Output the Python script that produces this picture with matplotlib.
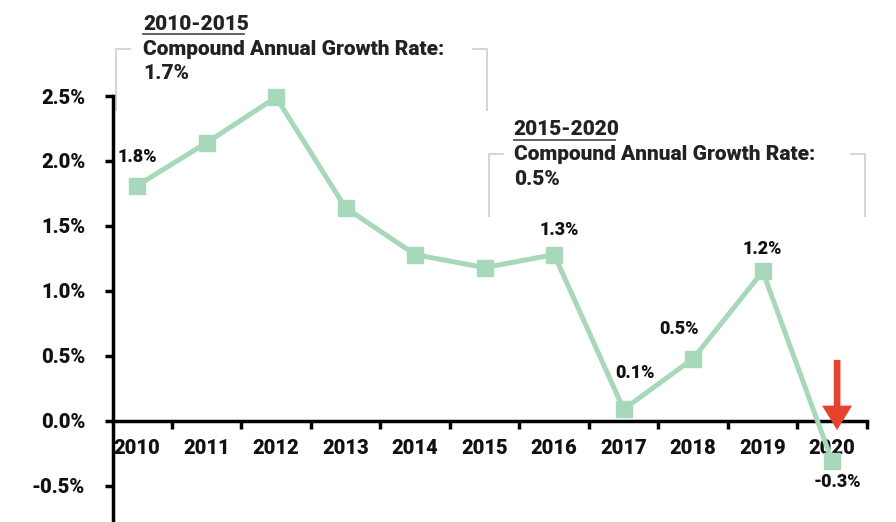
import numpy as np
import matplotlib.pyplot as plt

years = ['2010', '2011', '2012', '2013', '2014', '2015', '2016', '2017', '2018', '2019', '2020']
growth = [1.81, 2.14, 2.49, 1.64, 1.28, 1.18, 1.28, 0.09, 0.48, 1.15, -0.31]
point_labels = {0: '1.8%', 6: '1.3%', 7: '0.1%', 8: '0.5%', 9: '1.2%', 10: '-0.3%'}
yticks = [-0.5, 0.0, 0.5, 1.0, 1.5, 2.0, 2.5]

plt.rcParams['font.family'] = ['Roboto', 'DejaVu Sans']
plt.rcParams['font.weight'] = 'black'
dark = '#111111'
green = '#A8D8BA'
grey = '#d6d6d6'
W = 'black'

fig = plt.figure(figsize=(8.96, 5.22), dpi=100)
ax = fig.add_axes([113 / 896, 0, (867 - 113) / 896, 426 / 522])

x = np.arange(len(years))
ax.plot(x, growth, color=green, lw=3.6, marker='s', ms=11, mec=green, mfc=green,
        zorder=3, clip_on=False)

ax.set_xlim(-0.345, 10.5)
ax.set_ylim(-0.777, 2.5)

for s in ['top', 'right']:
    ax.spines[s].set_visible(False)
ax.spines['bottom'].set_position(('data', 0))
ax.spines['left'].set_linewidth(2.5)
ax.spines['bottom'].set_linewidth(2.5)

ax.set_yticks(yticks)
ax.set_yticklabels(['%.1f%%' % v for v in yticks], fontsize=14.5, fontweight=W, color=dark)
ax.tick_params(axis='y', length=6, width=2.5, pad=14)

ax.set_xticks(x + 0.5)
ax.set_xticklabels([])
ax.set_xticks(x, minor=True)
ax.set_xticklabels(years, minor=True, fontsize=14.5, fontweight=W, color=dark)
ax.tick_params(axis='x', which='major', length=6, width=2.5, direction='out')
ax.tick_params(axis='x', which='minor', length=0, pad=13)

# point labels
offsets = {0: (0, 21), 6: (4, 18), 7: (8, 26), 8: (-10, 21), 9: (0, 16), 10: (4, -15)}
for i, lab in point_labels.items():
    dx, dy = offsets[i]
    ax.annotate(lab, (x[i], growth[i]), xytext=(dx, dy), textcoords='offset points',
                ha='center', va='center', fontsize=13, fontweight=W, color=dark,
                annotation_clip=False)

# red arrow
ax.annotate('', xy=(10.07, -0.07), xytext=(10.07, 0.47),
            arrowprops=dict(arrowstyle='simple,head_length=1.1,head_width=1.35,tail_width=0.3',
                            color='#E5432B', lw=0, mutation_scale=16, shrinkA=0, shrinkB=0),
            annotation_clip=False, zorder=5)

# CAGR brackets
def bracket(x0, x1, ytop, ybot, title, line2, line3, tx):
    kw = dict(color=grey, lw=1.5, clip_on=False)
    ax.plot([x0 + 0.2, x0, x0], [ytop, ytop, ybot], **kw)
    ax.plot([x1 - 0.2, x1, x1], [ytop, ytop, ybot], **kw)
    ax.text(tx, ytop + 0.19, title, fontsize=15, fontweight=W, color='#222222',
            ha='left', va='center')
    ax.plot([tx, tx + 1.45], [ytop + 0.115, ytop + 0.115], color='#555555', lw=1.3,
            clip_on=False)
    ax.text(tx, ytop + 0.0, line2, fontsize=15, fontweight=W, color='#222222',
            ha='left', va='center')
    ax.text(tx, ytop - 0.19, line3, fontsize=15, fontweight=W, color='#222222',
            ha='left', va='center')

bracket(-0.30, 5.04, 2.86, 2.39, '2010-2015', 'Compound Annual Growth Rate:', '1.7%', 0.09)
bracket(5.07, 10.47, 2.05, 1.58, '2015-2020', 'Compound Annual Growth Rate:', '0.5%', 5.42)

fig.savefig('out.png', dpi=100)
